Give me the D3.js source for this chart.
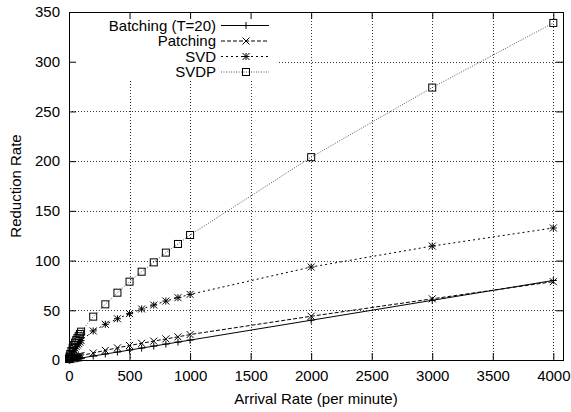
<!DOCTYPE html>
<html lang="en">
<head>
<meta charset="UTF-8">
<title>reduction rate</title>
<style>
    body { margin: 0; background: #fff; }
    text { font-family: "Liberation Sans", Arial, Helvetica, sans-serif; font-size: 15px; fill: #000; }
    .axis path { display: none; }
    .axis line { stroke: #000; stroke-width: 1; }
    .grid line { stroke: #333; stroke-width: 1; stroke-dasharray: 1,2; shape-rendering: crispEdges; }
</style>
</head>
<body>
<svg class="chart"></svg>
<script src="https://cdn.jsdelivr.net/npm/d3@7/dist/d3.min.js"></script>
<script>
    // data
    var rates    = [1, 2, 5, 10, 20, 30, 40, 50, 60, 70, 80, 90, 100,
                    200, 300, 400, 500, 600, 700, 800, 900, 1000, 2000, 3000, 4000]
    var batching = [0.02, 0.04, 0.1, 0.2, 0.4, 0.6, 0.8, 1, 1.2, 1.4, 1.6, 1.8, 2,
                    4, 6, 8, 10, 12, 14, 16, 18, 20, 40, 60, 80]
    var patching = [0.4, 0.6, 0.9, 1.3, 1.9, 2.4, 2.9, 3.2, 3.5, 3.8, 4.1, 4.3, 4.6,
                    7, 9.7, 12.2, 14.6, 16.8, 19, 21.2, 23.3, 25.6, 44, 61.5, 78.8]
    var svd      = [0.7, 1.2, 2.5, 4, 6, 8, 10, 12, 13.5, 15, 16.5, 18, 19.5,
                    29.2, 35.9, 41.5, 46.6, 51.3, 55.3, 59.3, 62.7, 66, 93.5, 114.6, 132.8]
    var svdp     = [1, 1.6, 3.5, 6, 9, 12, 15, 17.5, 20, 22, 24, 26.2, 28.5,
                    43.6, 56, 67.7, 78.8, 88.8, 98.2, 108, 116.7, 125.7, 204, 274, 339]
    var seriesNames = ["Batching (T=20)", "Patching", "SVD", "SVDP"]
    var xTicks = [0, 500, 1000, 1500, 2000, 2500, 3000, 3500, 4000]
    var yTicks = [0, 50, 100, 150, 200, 250, 300, 350]

    var W = 571, H = 412
    var pLeft = 69, pRight = 563, pTop = 12, pBottom = 360

    var svg = d3.select('.chart').attr('width', W).attr('height', H)

    var x = d3.scaleLinear().domain([0, 4080]).range([pLeft, pRight])
    var y = d3.scaleLinear().domain([0, 350]).range([pBottom, pTop])

    // grid
    var grid = svg.append('g').attr('class', 'grid')
    grid.selectAll('.gx').data(xTicks.filter(function (d) { return d > 0 }))
        .enter().append('line')
        .attr('x1', function (d) { return Math.round(x(d)) + 0.5 })
        .attr('x2', function (d) { return Math.round(x(d)) + 0.5 })
        .attr('y1', pTop).attr('y2', pBottom)
    grid.selectAll('.gy').data(yTicks.filter(function (d) { return d > 0 && d < 350 }))
        .enter().append('line')
        .attr('y1', function (d) { return Math.round(y(d)) + 0.5 })
        .attr('y2', function (d) { return Math.round(y(d)) + 0.5 })
        .attr('x1', pLeft).attr('x2', pRight)

    // key area hides the grid
    svg.append('rect').attr('x', pLeft + 1).attr('y', pTop + 1)
        .attr('width', 278 - pLeft).attr('height', 80 - pTop).attr('fill', '#fff')

    // axes, ticks pointing inward on all four sides
    svg.append('g').attr('class', 'axis')
        .attr('transform', 'translate(0,' + pBottom + ')')
        .call(d3.axisBottom(x).tickValues(xTicks).tickSizeInner(-7).tickSizeOuter(0)
            .tickPadding(10).tickFormat(d3.format('d')))
    svg.append('g').attr('class', 'axis')
        .attr('transform', 'translate(0,' + pTop + ')')
        .call(d3.axisTop(x).tickValues(xTicks).tickSizeInner(-7).tickSizeOuter(0).tickFormat(''))
    svg.append('g').attr('class', 'axis')
        .attr('transform', 'translate(' + pLeft + ',0)')
        .call(d3.axisLeft(y).tickValues(yTicks).tickSizeInner(-7).tickSizeOuter(0).tickPadding(9))
    svg.append('g').attr('class', 'axis')
        .attr('transform', 'translate(' + pRight + ',0)')
        .call(d3.axisRight(y).tickValues(yTicks).tickSizeInner(-7).tickSizeOuter(0).tickFormat(''))

    svg.selectAll('.axis text').attr('font-size', null)
        .style('font-family', '"Liberation Sans", Arial, sans-serif').style('font-size', '15px')

    svg.append('rect').attr('x', pLeft + 0.5).attr('y', pTop + 0.5)
        .attr('width', pRight - pLeft).attr('height', pBottom - pTop)
        .attr('fill', 'none').attr('stroke', '#000').attr('stroke-width', 1)

    // titles
    svg.append('text').attr('x', (pLeft + pRight) / 2).attr('y', 404)
        .attr('text-anchor', 'middle').text('Arrival Rate (per minute)')
    svg.append('text').attr('transform', 'translate(21,' + (pTop + pBottom) / 2 + ') rotate(-90)')
        .attr('text-anchor', 'middle').text('Reduction Rate')

    // markers
    function drawMarker(g, kind, cx, cy) {
        var s = 3.5
        if (kind === 'plus' || kind === 'star') {
            g.append('path').attr('d', 'M' + (cx - s) + ',' + cy + 'H' + (cx + s) + 'M' + cx + ',' + (cy - s) + 'V' + (cy + s))
                .attr('stroke', '#000').attr('fill', 'none')
        }
        if (kind === 'cross' || kind === 'star') {
            g.append('path').attr('d', 'M' + (cx - s) + ',' + (cy - s) + 'L' + (cx + s) + ',' + (cy + s) +
                'M' + (cx - s) + ',' + (cy + s) + 'L' + (cx + s) + ',' + (cy - s))
                .attr('stroke', '#000').attr('fill', 'none')
        }
        if (kind === 'box') {
            g.append('rect').attr('x', cx - s).attr('y', cy - s).attr('width', 2 * s).attr('height', 2 * s)
                .attr('stroke', '#000').attr('fill', 'none')
        }
    }

    var styles = [
        { values: batching, dash: null,    color: '#000', mark: 'plus' },
        { values: patching, dash: '4,2',   color: '#000', mark: 'cross' },
        { values: svd,      dash: '2,3',   color: '#000', mark: 'star' },
        { values: svdp,     dash: '1,1.5', color: '#555', mark: 'box' }
    ]

    var line = d3.line()
        .x(function (d) { return x(d[0]) })
        .y(function (d) { return y(d[1]) })

    styles.forEach(function (st) {
        var pts = rates.map(function (r, i) { return [r, st.values[i]] })
        svg.append('path').datum(pts)
            .attr('d', line)
            .attr('fill', 'none')
            .attr('stroke', st.color)
            .attr('stroke-width', 1)
            .attr('stroke-dasharray', st.dash)
        var g = svg.append('g')
        pts.forEach(function (p) { drawMarker(g, st.mark, x(p[0]), y(p[1])) })
    })

    // legend
    var keyY = [25.5, 41, 56.5, 72]
    seriesNames.forEach(function (name, i) {
        var st = styles[i]
        svg.append('text').attr('x', 216).attr('y', keyY[i]).attr('dy', '0.35em')
            .attr('text-anchor', 'end').text(name)
        svg.append('line').attr('x1', 221).attr('x2', 269)
            .attr('y1', keyY[i]).attr('y2', keyY[i])
            .attr('stroke', st.color).attr('stroke-dasharray', st.dash)
        drawMarker(svg.append('g'), st.mark, 246, keyY[i])
    })
</script>
</body>
</html>
